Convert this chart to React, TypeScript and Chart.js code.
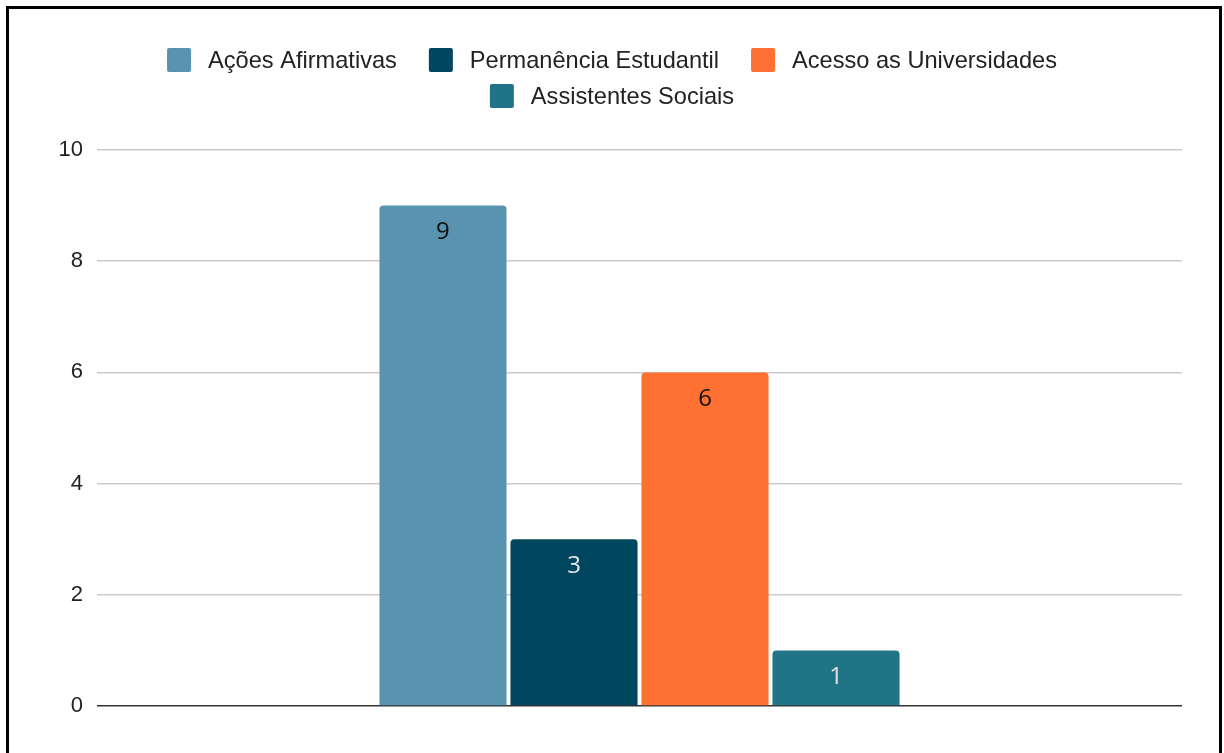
import React, { useEffect, useRef } from "react";
import { Chart, registerables } from "chart.js";

Chart.register(...registerables);

const categories = [""];
const seriesNames = [
  "Ações Afirmativas",
  "Permanência Estudantil",
  "Acesso as Universidades",
  "Assistentes Sociais",
];
const acoesAfirmativas = [9];
const permanenciaEstudantil = [3];
const acessoUniversidades = [6];
const assistentesSociais = [1];
const seriesValues = [acoesAfirmativas, permanenciaEstudantil, acessoUniversidades, assistentesSociais];
const seriesColors = ["#5A93B0", "#01465F", "#FF7033", "#217485"];
const valueLabelColors = ["#111111", "#e6e6e6", "#111111", "#e6e6e6"];
const yMin = 0;
const yMax = 10;
const yStep = 2;

const legendPlugin = {
  id: "customLegend",
  afterDraw(chart: any) {
    const ctx = chart.ctx;
    ctx.save();
    ctx.font = '23.6px "Liberation Sans", Arial, sans-serif';
    ctx.textBaseline = "middle";
    ctx.textAlign = "left";
    const box = 24;
    const gapText = 17;
    const gapItem = 32;
    const maxW = chart.chartArea.right - chart.chartArea.left;
    const items = chart.data.datasets.map((d: any) => ({
      text: d.label,
      color: d.backgroundColor,
      w: box + gapText + ctx.measureText(d.label).width,
    }));
    const rows: any[][] = [];
    let cur: any[] = [];
    let curW = 0;
    items.forEach((it: any) => {
      const add = cur.length ? gapItem + it.w : it.w;
      if (cur.length && curW + add > maxW) {
        rows.push(cur);
        cur = [it];
        curW = it.w;
      } else {
        cur.push(it);
        curW += add;
      }
    });
    if (cur.length) rows.push(cur);
    const centerX = chart.width / 2;
    const rowY0 = 60;
    const rowGap = 36;
    rows.forEach((row, r) => {
      const total = row.reduce((s, it) => s + it.w, 0) + gapItem * (row.length - 1);
      let x = centerX - total / 2;
      const y = rowY0 + r * rowGap;
      row.forEach((it) => {
        ctx.fillStyle = it.color;
        ctx.beginPath();
        if (ctx.roundRect) ctx.roundRect(x, y - box / 2, box, box, 2);
        else ctx.rect(x, y - box / 2, box, box);
        ctx.fill();
        ctx.fillStyle = "#222222";
        ctx.fillText(it.text, x + box + gapText, y + 1);
        x += it.w + gapItem;
      });
    });
    ctx.restore();
  },
};

const valueLabelPlugin = {
  id: "valueLabels",
  afterDatasetsDraw(chart: any) {
    const ctx = chart.ctx;
    ctx.save();
    ctx.font = '24px "Open Sans", "Noto Sans", sans-serif';
    ctx.textAlign = "center";
    ctx.textBaseline = "middle";
    chart.data.datasets.forEach((ds: any, i: number) => {
      const meta = chart.getDatasetMeta(i);
      meta.data.forEach((bar: any, j: number) => {
        ctx.fillStyle = valueLabelColors[i];
        ctx.fillText(String(ds.data[j]), bar.x, bar.y + 27);
      });
    });
    ctx.restore();
  },
};

export default function App() {
  const ref = useRef<HTMLCanvasElement | null>(null);
  useEffect(() => {
    if (!ref.current) return;
    const chart = new Chart(ref.current, {
      type: "bar",
      data: {
        labels: categories,
        datasets: seriesNames.map((name, i) => ({
          label: name,
          data: seriesValues[i],
          backgroundColor: seriesColors[i],
          borderRadius: 4,
          borderSkipped: "start",
          categoryPercentage: 0.483,
          barPercentage: 0.97,
        })),
      },
      options: {
        responsive: false,
        animation: false,
        layout: { padding: { top: 150, bottom: 47, left: 0, right: 42 } },
        plugins: {
          legend: { display: false },
          tooltip: { enabled: false },
        },
        scales: {
          x: { display: false },
          y: {
            min: yMin,
            max: yMax,
            afterFit: (s: any) => {
              s.width = 97;
            },
            ticks: {
              stepSize: yStep,
              padding: 14,
              color: "#222222",
              font: { family: '"Liberation Sans", Arial, sans-serif', size: 22 },
            },
            border: { display: false },
            grid: {
              drawTicks: false,
              color: (c: any) => (c.tick && c.tick.value === 0 ? "#333333" : "#cccccc"),
              lineWidth: 1.5,
            },
          },
        },
      },
      plugins: [legendPlugin, valueLabelPlugin],
    });
    return () => chart.destroy();
  }, []);

  return (
    <div style={{ position: "absolute", left: 0, top: 0, width: 1224, height: 753, overflow: "hidden", background: "#fff" }}>
      <canvas ref={ref} width={1224} height={753} style={{ display: "block", position: "absolute", left: 0, top: 0 }} />
      <div
        style={{
          position: "absolute",
          left: 6,
          top: 6,
          width: 1216,
          height: 800,
          border: "3px solid #000",
          boxSizing: "border-box",
          pointerEvents: "none",
        }}
      />
    </div>
  );
}
